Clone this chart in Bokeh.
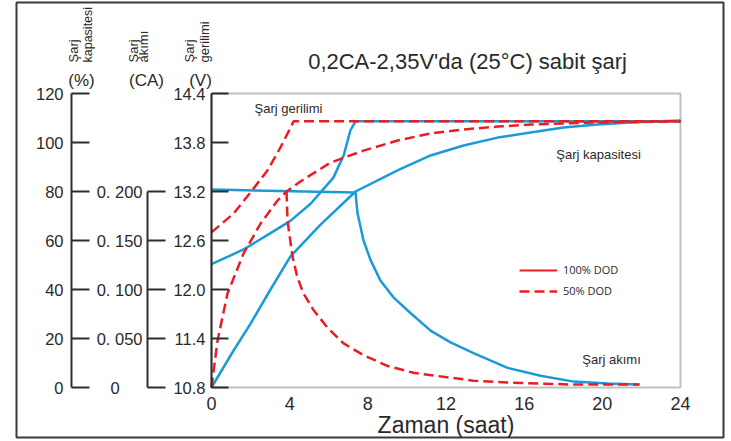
import math
from bokeh.plotting import figure
from bokeh.models import (Range1d, LinearAxis, FixedTicker, Label, Legend,
                          LegendItem, PrintfTickFormatter, BoxAnnotation)
from bokeh.embed import file_html
from bokeh.resources import INLINE

# ---------------- data ----------------
x_ticks = [0, 4, 8, 12, 16, 20, 24]
v_ticks = [10.8, 11.4, 12.0, 12.6, 13.2, 13.8, 14.4]
pct_ticks = [0, 20, 40, 60, 80, 100, 120]
ca_ticks = [0, 0.05, 0.1, 0.15, 0.2]
ca_tick_labels = ["0\u00a0\u00a0\u00a0\u00a0\u00a0", "0. 050", "0. 100", "0. 150", "0. 200"]

# 100% DOD (blue)
v100_t = [0, 1.64, 3.02, 4.04, 5.07, 5.58, 6.24, 6.76, 7.11, 7.37, 24]
v100_v = [12.31, 12.49, 12.69, 12.84, 13.05, 13.19, 13.37, 13.64, 13.95, 14.06, 14.06]

i100_t = [0, 7.37, 7.47, 7.78, 8.14, 8.65, 9.31, 10.18, 11.21, 12.23, 13.41, 15.15,
          16.84, 18.53, 20.27, 21.9]
i100_ca = [0.202, 0.199, 0.178, 0.150, 0.130, 0.109, 0.092, 0.076, 0.058, 0.046, 0.035,
           0.020, 0.012, 0.006, 0.004, 0.003]

c100_t = [0, 1.13, 2.0, 3.02, 4.04, 5.58, 7.37, 9.52, 11.21, 12.9, 14.64, 16.33, 18.01,
          19.75, 21.44, 24]
c100_pct = [0, 15.1, 26.1, 40.0, 53.5, 66.5, 80.0, 88.6, 94.7, 98.8, 102.0, 104.1, 106.1,
            107.3, 108.2, 109.0]

# 50% DOD (red dashed)
v50_t = [0, 1.13, 2.0, 2.87, 3.53, 4.04, 4.2, 24]
v50_v = [12.70, 12.93, 13.19, 13.46, 13.74, 13.98, 14.06, 14.06]

i50_t = [3.84, 3.89, 4.15, 4.40, 4.71, 5.22, 5.94, 6.76, 7.78, 9.0, 10.34, 12.23, 13.41,
         15.15, 16.84, 18.53, 20.27, 21.9]
i50_ca = [0.200, 0.170, 0.133, 0.112, 0.096, 0.079, 0.061, 0.045, 0.033, 0.022, 0.015,
          0.010, 0.007, 0.005, 0.004, 0.003, 0.003, 0.003]

c50_t = [0, 0.31, 0.82, 1.64, 2.51, 3.38, 3.84, 4.55, 6.09, 7.78, 9.52, 11.21, 12.9,
         14.64, 16.33, 19.75, 24]
c50_pct = [0, 19.2, 38.4, 54.7, 66.9, 76.3, 80.0, 84.1, 91.8, 96.7, 100.8, 103.7, 105.3,
           106.5, 107.3, 108.2, 108.6]

title_text = "0,2CA-2,35V'da (25°C) sabit şarj"
x_label = "Zaman (saat)"
legend_labels = ["100% DOD", "50% DOD"]

# ---------------- style / geometry ----------------
FONT = "Liberation Sans"
TXT = "#2a2a2a"
AX = "#2e2e2e"
BLUE = "#1a9bd8"
RED = "#ec1c24"
DASH = "10 5"
LW = 2.5

W, H = 725, 439                 # canvas, placed at page (0, 0)
OX, OY = 0, 0
MB_L, MB_R, MB_T, MB_B = 16, 2, 2, 2
# inner chart box in page pixels
FL, FR, FT, FB = 211, 680, 93, 387
PXH = (FR - FL) / 24.0          # px per hour
PXV = (FB - FT) / 3.6           # px per volt

fl, fr = OX + MB_L, OX + W - MB_R
ft, fb = OY + MB_T, OY + H - MB_B


def hx(px):
    return (px - FL) / PXH


def vy(py):
    return 10.8 + (FB - py) / PXV


v0, v1 = vy(fb), vy(ft)
p = figure(width=W, height=H, x_range=Range1d(hx(fl), hx(fr)),
           y_range=Range1d(v0, v1),
           output_backend="svg", toolbar_location=None,
           min_border_left=MB_L, min_border_right=MB_R,
           min_border_top=MB_T, min_border_bottom=MB_B)
# 10.8 V <-> 0 % <-> 0 CA ; 14.4 V <-> 120 % <-> 0.3 CA
p.extra_y_ranges = {
    "pct": Range1d((v0 - 10.8) / 3.6 * 120, (v1 - 10.8) / 3.6 * 120),
    "ca": Range1d((v0 - 10.8) / 3.6 * 0.3, (v1 - 10.8) / 3.6 * 0.3),
}
p.grid.visible = False
p.outline_line_color = "#3a3a3a"
p.outline_line_width = 2
p.background_fill_color = "white"
p.border_fill_color = "white"

# inner chart box
p.add_layout(BoxAnnotation(left=0, right=24, bottom=10.8, top=14.4, fill_color=None,
                           line_color=AX, line_width=2))

# x axis
xa = p.xaxis[0]
xa.fixed_location = 10.8
xa.bounds = (0, 24)
xa.ticker = FixedTicker(ticks=x_ticks)
xa.axis_line_color = None
xa.major_tick_in = 0
xa.major_tick_out = 0
xa.minor_tick_line_color = None
xa.major_label_text_font = FONT
xa.major_label_text_font_size = "18px"
xa.major_label_text_color = TXT
xa.major_label_standoff = 9
xa.axis_label = x_label
xa.axis_label_text_font = FONT
xa.axis_label_text_font_size = "23px"
xa.axis_label_text_font_style = "normal"
xa.axis_label_text_color = TXT
xa.axis_label_standoff = -1


def style_y(ax, tick_in, standoff):
    ax.axis_line_color = AX
    ax.axis_line_width = 2
    ax.major_tick_line_color = AX
    ax.major_tick_line_width = 2
    ax.major_tick_in = tick_in
    ax.major_tick_out = 0
    ax.minor_tick_line_color = None
    ax.major_label_text_font = FONT
    ax.major_label_text_font_size = "16.5px"
    ax.major_label_text_color = TXT
    ax.major_label_standoff = standoff


# voltage axis
va = p.yaxis[0]
va.fixed_location = 0
va.bounds = (10.8, 14.4)
va.ticker = FixedTicker(ticks=v_ticks)
va.formatter = PrintfTickFormatter(format="%.1f")
style_y(va, 17, 6)

# current axis
ca = LinearAxis(y_range_name="ca", bounds=(0, 0.2), fixed_location=hx(147))
ca.ticker = FixedTicker(ticks=ca_ticks)
ca.major_label_overrides = {t: s for t, s in zip(ca_ticks, ca_tick_labels)}
style_y(ca, 18, 5)
p.add_layout(ca, "left")

# percent axis
pa = LinearAxis(y_range_name="pct", bounds=(0, 120), fixed_location=hx(71))
pa.ticker = FixedTicker(ticks=pct_ticks)
style_y(pa, 18, 8)
p.add_layout(pa, "left")

# ---------------- curves ----------------
r_leg100 = p.line(i100_t, i100_ca, line_color=RED, line_width=2, y_range_name="ca",
                  visible=False)
p.line(v100_t, v100_v, line_color=BLUE, line_width=LW)
p.line(i100_t, i100_ca, line_color=BLUE, line_width=LW, y_range_name="ca")
p.line(c100_t, c100_pct, line_color=BLUE, line_width=LW, y_range_name="pct")
p.line(v50_t, v50_v, line_color=RED, line_width=LW, line_dash=DASH)
r_leg50 = p.line(i50_t, i50_ca, line_color=RED, line_width=LW, line_dash=DASH,
                 y_range_name="ca")
p.line(c50_t, c50_pct, line_color=RED, line_width=LW, line_dash=DASH, y_range_name="pct")

leg = Legend(items=[LegendItem(label=legend_labels[0], renderers=[r_leg100]),
                    LegendItem(label=legend_labels[1], renderers=[r_leg50])],
             location=(521 - fl - 2, fb - 298), border_line_color=None,
             background_fill_alpha=0, inactive_fill_alpha=0,
             padding=0, margin=0, spacing=6, glyph_width=38, glyph_height=12,
             label_height=12, label_standoff=6, label_text_font="Open Sans",
             label_text_font_size="11px", label_text_color=TXT)
p.add_layout(leg)


def lab(text, px, py, size, align="center", angle=0.0, baseline="middle"):
    p.add_layout(Label(x=hx(px), y=vy(py), text=text, text_align=align,
                       text_baseline=baseline, angle=angle, text_font=FONT,
                       text_font_size=size, text_color=TXT))


lab(title_text, 467, 61, "22px")
lab("Şarj gerilimi", 288, 108, "13px")
lab("Şarj kapasitesi", 598, 154, "13px")
lab("Şarj akımı", 611, 359, "13px")

# axis headers
R = math.pi / 2
lab("Şarj", 73, 62, "13px", align="left", angle=R)
lab("kapasitesi", 87, 62, "12.5px", align="left", angle=R)
lab("(%)", 81, 80, "17px")
lab("Şarj", 133, 62, "13px", align="left", angle=R)
lab("akımı", 142.5, 62, "13px", align="left", angle=R)
lab("(CA)", 146, 80, "17px")
lab("Şarj", 188.5, 62, "13px", align="left", angle=R)
lab("gerilimi", 203.5, 62, "13px", align="left", angle=R)
lab("(V)", 200, 80, "17px")

open("out.html", "w").write(file_html(p, INLINE))
